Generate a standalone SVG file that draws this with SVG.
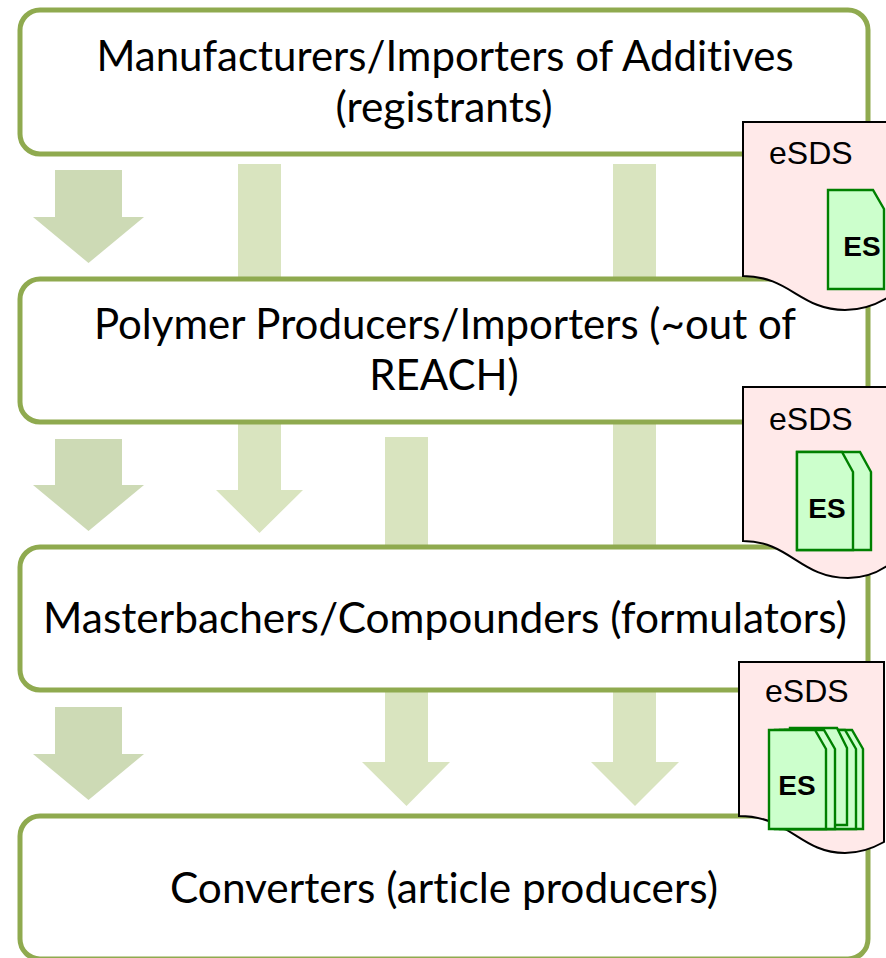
<svg xmlns="http://www.w3.org/2000/svg" width="886" height="958" viewBox="0 0 886 958">
<style>
.box{fill:#fff;stroke:#8faa4f;stroke-width:5}
.lab{font-family:"Lato","Liberation Sans",sans-serif;font-size:42px;fill:#000;text-anchor:middle;font-variant-ligatures:none}
.lab2{font-size:42.400px}
.big{fill:#cddab5}
.lite{fill:#d9e4bf}
.doc{fill:#ffe9e9;stroke:#000;stroke-width:2}
.es{fill:#ccffcc;stroke:#008000;stroke-width:2.400}
.t1{font-family:"Liberation Sans",Arial,sans-serif;font-size:32px;fill:#000}
.t2{font-family:"Liberation Sans",Arial,sans-serif;font-size:28px;font-weight:bold;fill:#000;text-anchor:middle}
</style>
<g id="connectors">
<path class="big" d="M55 170H122V217H144L88.500 263L33 217H55Z"/>
<path class="lite" d="M238 164H281V279H238Z"/>
<path class="lite" d="M613 164H656V279H613Z"/>
<path class="big" d="M55 439H122V485H144L88.500 531L33 485H55Z"/>
<path class="lite" d="M238 422H281V490H303L259.500 533L216 490H238Z"/>
<path class="lite" d="M385 437H428V547H385Z"/>
<path class="lite" d="M613 422H656V547H613Z"/>
<path class="big" d="M55 707H122V754H144L88.500 800L33 754H55Z"/>
<path class="lite" d="M385 690H428V762H450L406.500 806L362 762H385Z"/>
<path class="lite" d="M613 690H656V762H679L635 806L591 762H613Z"/>
</g>
<g id="node-manufacturers">
<rect class="box" x="20" y="10" width="848" height="144" rx="20"/>
<text class="lab" x="445" y="71">Manufacturers/Importers of Additives</text>
<text class="lab lab2" x="444" y="122">(registrants)</text>
</g>
<g id="node-polymer">
<rect class="box" x="20" y="279" width="848" height="143" rx="20"/>
<text class="lab" x="445" y="339">Polymer Producers/Importers (~out of</text>
<text class="lab" x="444" y="390">REACH)</text>
</g>
<g id="node-masterbatchers">
<rect class="box" x="20" y="547" width="848" height="143" rx="20"/>
<text class="lab lab2" x="445" y="633">Masterbachers/Compounders (formulators)</text>
</g>
<g id="node-converters">
<rect class="box" x="20" y="816" width="848" height="143" rx="20"/>
<text class="lab lab2" x="444" y="903">Converters (article producers)</text>
</g>
<g id="node-esds-1">
<path class="doc" d="M743 122H887V298C875 305 862 310 845 310C800 310 790 276 743 276Z"/>
<text class="t1" x="769" y="164">eSDS</text>
<path class="es" d="M828 190H873L884 209V289H828Z"/>
<text class="t2" x="862" y="256">ES</text>
</g>
<g id="node-esds-2">
<path class="doc" d="M743 387H887V566C878 572 865 578 848 578C800 578 790 541 743 541Z"/>
<text class="t1" x="769" y="430">eSDS</text>
<path class="es" d="M797 452H860L871 472V550H797Z"/>
<path class="es" d="M797 452H842L853 472V550H797Z"/>
<text class="t2" x="827" y="518">ES</text>
</g>
<g id="node-esds-3">
<path class="doc" d="M739 662H884V842C875 847 860 853 845 853C800 853 790 816 739 816Z"/>
<text class="t1" x="765" y="702">eSDS</text>
<path class="es" d="M785 730H852L863 749V829H785Z"/>
<path class="es" d="M780 730H845L856 749V829H780Z"/>
<path class="es" d="M790 728H837L847 748V825H790Z"/>
<path class="es" d="M775 730H824L835 749V829H775Z"/>
<path class="es" d="M769 730H815L826 749V829H769Z"/>
<text class="t2" x="797" y="795">ES</text>
</g>
</svg>
